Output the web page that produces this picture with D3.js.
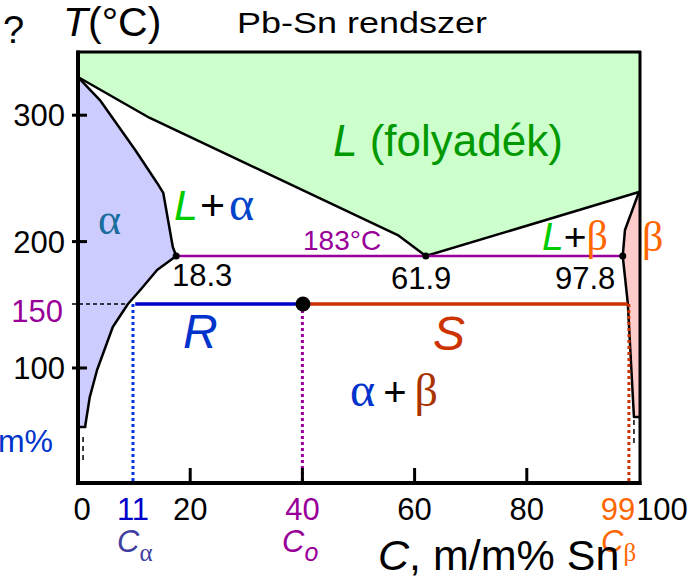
<!DOCTYPE html>
<html>
<head>
<meta charset="utf-8">
<script src="https://cdn.jsdelivr.net/npm/d3@7"></script>
<style>
  body { margin: 0; background: #fff; }
  svg { display: block; }
  text { font-family: "Liberation Sans", Arial, sans-serif; }
  .greek { font-family: "Liberation Serif", "Times New Roman", serif; }
</style>
</head>
<body>
<svg id="chart" width="696" height="581"></svg>
<script>
// phase boundaries: [m/m% Sn, T °C]
const liquidusLeft = [[0, 330.2], [12.8, 297.8], [57.0, 205.2], [62.0, 188.6]];
const liquidusRight = [[62.0, 188.6], [100, 239.2]];
const solidusAlpha = [[0, 330.2], [3.9, 312], [10.2, 272.5], [14.1, 246.4], [15.2, 238.5], [16.9, 195.7], [17.5, 188.6]];
const solvusAlpha = [[17.5, 188.6], [14.1, 177.5], [11.1, 161.7], [8.9, 150.6], [6.2, 132.4], [3.4, 98.4], [2.1, 77], [1.3, 54.5], [1.3, 53.3], [0, 53.3]];
const alphaDashed = [[0.9, 45.4], [0.9, 25.6]];
const betaBoundary = [[100, 239.2], [97.5, 209.2], [97.1, 188.6], [98.0, 151.4], [99.1, 61.2], [100, 61.2]];
const betaDashed = [[99.1, 58.8], [99.1, 39]];

// eutectic line and its three points
const eutecticT = 188.6;
const eutecticComps = [17.5, 62.0, 97.1];
const eutecticLabels = ["18.3", "61.9", "97.8"];

// tie line at 150 °C for Co = 40
const tieT = 150.6;
const tieComps = [10.2, 40.1, 98.0];   // C-alpha, Co, C-beta
const markComps = [9.8, 40.0, 98.2];    // dotted verticals

// axes
const yTicks = [100, 200, 300];
const yTickLabels = ["100", "200", "300"];
const xTicks = [20, 40, 60, 80];
const xLabels = ["0", "11", "20", "40", "60", "80", "99", "100"];
const xLabelAt = [0, 9.8, 20, 40, 60, 80, 98.2, 100];
const xLabelColors = ["#000", "#0000cc", "#000", "#990099", "#000", "#000", "#ff6600", "#000"];

const svg = d3.select("#chart");

var x = d3.scaleLinear().domain([0, 100]).range([78, 639]);
var y = d3.scaleLinear().domain([9, 350]).range([483, 52]);

const line = d3.line().x(d => x(d[0])).y(d => y(d[1]));

// --- filled regions ---
const liquidRegion = [[0, 350]].concat(liquidusLeft, liquidusRight.slice(1), [[100, 350]]);
svg.append("path").attr("d", line(liquidRegion) + "Z").attr("fill", "#ccffcc");

const alphaRegion = solidusAlpha.concat(solvusAlpha.slice(1));
svg.append("path").attr("d", line(alphaRegion) + "Z").attr("fill", "#ccccff");

svg.append("path").attr("d", line(betaBoundary) + "Z").attr("fill", "#ffcccc");

// --- boundary curves ---
[liquidusLeft, liquidusRight, solidusAlpha, solvusAlpha, betaBoundary].forEach(pts => {
  svg.append("path").attr("d", line(pts))
    .attr("fill", "none").attr("stroke", "#000").attr("stroke-width", 2.5)
    .attr("stroke-linejoin", "round");
});
[alphaDashed, betaDashed].forEach(pts => {
  svg.append("path").attr("d", line(pts))
    .attr("fill", "none").attr("stroke", "#000").attr("stroke-width", 1.5)
    .attr("stroke-dasharray", "5,4");
});

// eutectic horizontal
svg.append("line")
  .attr("x1", x(eutecticComps[0])).attr("x2", x(eutecticComps[2]))
  .attr("y1", y(eutecticT)).attr("y2", y(eutecticT))
  .attr("stroke", "#990099").attr("stroke-width", 2.5);

// dashed line from the 150 label to the solvus
svg.append("line")
  .attr("x1", x(0) - 6).attr("x2", x(tieComps[0]) - 7)
  .attr("y1", y(tieT)).attr("y2", y(tieT))
  .attr("stroke", "#000").attr("stroke-width", 1.5).attr("stroke-dasharray", "4,3");

// dotted verticals down to the axis
const markColors = ["#0033dd", "#990099", "#cc3300"];
markComps.forEach((c, i) => {
  svg.append("line")
    .attr("x1", x(c)).attr("x2", x(c))
    .attr("y1", y(tieT)).attr("y2", y(9))
    .attr("stroke", markColors[i]).attr("stroke-width", 3).attr("stroke-dasharray", "3,3");
});

// tie line halves
svg.append("line")
  .attr("x1", x(tieComps[0])).attr("x2", x(tieComps[1]))
  .attr("y1", y(tieT)).attr("y2", y(tieT))
  .attr("stroke", "#0000cc").attr("stroke-width", 3.5);
svg.append("line")
  .attr("x1", x(tieComps[1])).attr("x2", x(tieComps[2]))
  .attr("y1", y(tieT)).attr("y2", y(tieT))
  .attr("stroke", "#cc3300").attr("stroke-width", 3.5);

// --- frame and ticks ---
svg.append("line").attr("x1", x(0) - 1).attr("x2", x(100) + 2).attr("y1", y(350)).attr("y2", y(350))
  .attr("stroke", "#000").attr("stroke-width", 3);
svg.append("line").attr("x1", x(100) + 1).attr("x2", x(100) + 1).attr("y1", y(350) - 1).attr("y2", y(9) + 2)
  .attr("stroke", "#000").attr("stroke-width", 3);
svg.append("line").attr("x1", x(0)).attr("x2", x(0)).attr("y1", y(350) - 1.5).attr("y2", y(9) + 2)
  .attr("stroke", "#000").attr("stroke-width", 4);
svg.append("line").attr("x1", x(0) - 2).attr("x2", x(100) + 2.5).attr("y1", y(9)).attr("y2", y(9))
  .attr("stroke", "#000").attr("stroke-width", 4);

svg.selectAll(".ytick").data(yTicks).enter().append("line")
  .attr("x1", x(0) - 6).attr("x2", x(0) + 9)
  .attr("y1", d => y(d)).attr("y2", d => y(d))
  .attr("stroke", "#000").attr("stroke-width", 3);

svg.selectAll(".xtick").data(xTicks).enter().append("line")
  .attr("x1", d => x(d)).attr("x2", d => x(d))
  .attr("y1", y(9)).attr("y2", y(9) - 15)
  .attr("stroke", "#000").attr("stroke-width", 3);

// dots
eutecticComps.forEach(c => {
  svg.append("circle").attr("cx", x(c)).attr("cy", y(eutecticT)).attr("r", 3.5).attr("fill", "#000");
});
svg.append("circle").attr("cx", x(tieComps[1])).attr("cy", y(tieT)).attr("r", 7.5).attr("fill", "#000");

// --- axis labels ---
yTicks.forEach((t, i) => {
  svg.append("text").attr("x", 65).attr("y", y(t) + 11)
    .attr("text-anchor", "end").attr("font-size", 31).attr("fill", "#000").text(yTickLabels[i]);
});
svg.append("text").attr("x", 63).attr("y", y(tieT) + 18)
  .attr("text-anchor", "end").attr("font-size", 31).attr("fill", "#990099").text("150");
svg.append("text").attr("x", 53).attr("y", 452)
  .attr("text-anchor", "end").attr("font-size", 32).attr("fill", "#0033cc").text("m/m%");

const xLabelShift = [4, 0, 0, 0, 0, 0, -11, 23];
xLabels.forEach((lab, i) => {
  svg.append("text").attr("x", x(xLabelAt[i]) + xLabelShift[i]).attr("y", 520)
    .attr("text-anchor", "middle").attr("font-size", 31).attr("fill", xLabelColors[i]).text(lab);
});

// C-alpha, Co, C-beta under the axis
function subLabel(cx, col, sub, subClass) {
  const t = svg.append("text").attr("x", cx).attr("y", 552).attr("font-size", 31).attr("fill", col);
  t.append("tspan").attr("font-style", "italic").text("C");
  const s = t.append("tspan").attr("font-size", 25).attr("dy", 9).text(sub);
  if (subClass) s.attr("class", subClass); else s.attr("font-style", "italic");
}
subLabel(117, "#4040a0", "α", "greek");
subLabel(282, "#990099", "o", "");
subLabel(601, "#ff6600", "β", "greek");

const xTitle = svg.append("text").attr("x", 378).attr("y", 570).attr("font-size", 43).attr("fill", "#000");
xTitle.append("tspan").attr("font-style", "italic").text("C");
xTitle.append("tspan").text(", m/m% Sn");

// y title and header
svg.append("text").attr("x", 3).attr("y", 43).attr("font-size", 38).attr("fill", "#000").text("?");
const yTitle = svg.append("text").attr("x", 63).attr("y", 36).attr("font-size", 41).attr("fill", "#000");
yTitle.append("tspan").attr("font-style", "italic").text("T");
yTitle.append("tspan").text("(°C)");
svg.append("text").attr("x", 237).attr("y", 33).attr("font-size", 29)
  .attr("textLength", 250).attr("lengthAdjust", "spacingAndGlyphs").attr("fill", "#000").text("Pb-Sn rendszer");

// --- region labels ---
const liq = svg.append("text").attr("x", 333).attr("y", 156).attr("font-size", 44).attr("fill", "#009900");
liq.append("tspan").attr("font-style", "italic").text("L");
liq.append("tspan").text(" (folyadék)");

svg.append("text").attr("class", "greek").attr("x", 98).attr("y", 234)
  .attr("font-size", 44).attr("fill", "#1a6e9e").text("α");

const la = svg.append("text").attr("x", 174).attr("y", 220).attr("font-size", 43);
la.append("tspan").attr("font-style", "italic").attr("fill", "#00cc00").text("L");
la.append("tspan").attr("fill", "#000").attr("dx", 2).text("+");
la.append("tspan").attr("class", "greek").attr("fill", "#0044cc").attr("dx", 4).attr("font-size", 48).text("α");

const lb = svg.append("text").attr("x", 542).attr("y", 250).attr("font-size", 39);
lb.append("tspan").attr("font-style", "italic").attr("fill", "#00cc00").text("L");
lb.append("tspan").attr("fill", "#000").text("+");
lb.append("tspan").attr("class", "greek").attr("fill", "#ff6600").attr("font-size", 42).text("β");

svg.append("text").attr("class", "greek").attr("x", 642).attr("y", 251)
  .attr("font-size", 42).attr("fill", "#ff6600").text("β");

svg.append("text").attr("x", 303).attr("y", 250).attr("font-size", 28).attr("fill", "#990099").text("183°C");

const eutLabelX = [172, 391, 555];
eutecticLabels.forEach((lab, i) => {
  svg.append("text").attr("x", eutLabelX[i]).attr("y", 286 + (i > 0 ? 3 : 0))
    .attr("font-size", 31).attr("fill", "#000").text(lab);
});

svg.append("text").attr("x", 183).attr("y", 348).attr("font-size", 48)
  .attr("font-style", "italic").attr("fill", "#0033cc").text("R");
svg.append("text").attr("x", 433).attr("y", 350).attr("font-size", 48)
  .attr("font-style", "italic").attr("fill", "#cc3300").text("S");

const ab = svg.append("text").attr("x", 350).attr("y", 406).attr("font-size", 40);
ab.append("tspan").attr("class", "greek").attr("fill", "#0033cc").attr("font-size", 48).text("α");
ab.append("tspan").attr("fill", "#000").attr("dx", 8).text("+");
ab.append("tspan").attr("class", "greek").attr("fill", "#aa3300").attr("dx", 8).attr("font-size", 46).text("β");
</script>
</body>
</html>
